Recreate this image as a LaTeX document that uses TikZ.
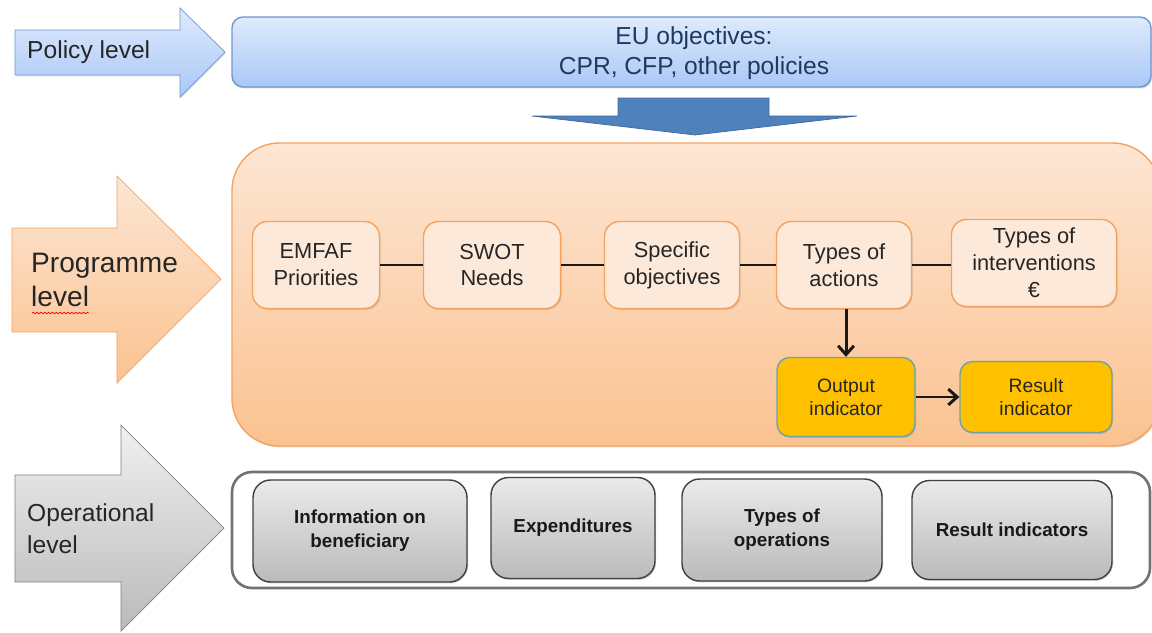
\documentclass[tikz,border=0pt]{standalone}
\usepackage{fontspec}
\setmainfont{Liberation Sans}
\usetikzlibrary{positioning}
\usetikzlibrary{arrows.meta}
\usetikzlibrary{shadows}
\usetikzlibrary{decorations.pathmorphing}

\definecolor{euText}{HTML}{1F3A60}
\definecolor{progLine}{HTML}{F5A25E}
\definecolor{progFill}{HTML}{FDE9DA}
\definecolor{progTop}{HTML}{FDE6D4}
\definecolor{progBottom}{HTML}{FBC290}
\definecolor{indFill}{HTML}{FFC000}
\definecolor{indLine}{HTML}{6FA3A8}
\definecolor{opLine}{HTML}{404040}
\definecolor{blueLine}{HTML}{6F97CC}
\definecolor{blueTop}{HTML}{DFEAFC}
\definecolor{blueBottom}{HTML}{A9C8F7}
\definecolor{arrowBlue}{HTML}{4F81BD}

\tikzset{
	progbox/.style={draw=progLine,fill=progFill,thick,rounded corners=0.3cm,align=center,
		font=\fontsize{12.4}{15.3}\selectfont,text=black!85,
		drop shadow={shadow xshift=0.6pt,shadow yshift=-0.8pt,opacity=0.3}},
	indbox/.style={draw=indLine,fill=indFill,thick,rounded corners=0.25cm,align=center,
		font=\fontsize{11}{13}\selectfont,text=black!85,
		drop shadow={shadow xshift=0.6pt,shadow yshift=-0.8pt,opacity=0.35}},
	opbox/.style={draw=opLine,thick,top color=black!8,bottom color=black!27,rounded corners=0.35cm,
		align=center,font=\fontsize{10.7}{13.6}\selectfont\bfseries,text=black!90,
		drop shadow={shadow xshift=0.6pt,shadow yshift=-0.8pt,opacity=0.35}},
	levellabel/.style={anchor=west,align=left,text=black!85},
	link/.style={line width=1.7pt,black!90},
}

\begin{document}
\begin{tikzpicture}[x=0.02cm,y=-0.02cm]
	\useasboundingbox (0,0) rectangle (1152,632);
	% level arrows
	\draw [blueLine,top color=blueTop,bottom color=blueBottom,
		drop shadow={shadow xshift=0.6pt,shadow yshift=-0.8pt,opacity=0.25}]
		(15,30) -- (180,30) -- (180,8) -- (225,52) -- (180,97) -- (180,75) -- (15,75) -- cycle;
	\draw [progLine,top color=progTop,bottom color=progBottom]
		(12,228) -- (117,228) -- (117,176) -- (221,279) -- (117,383) -- (117,332) -- (12,332) -- cycle;
	\draw [black!50,top color=black!6,bottom color=black!27]
		(15,475) -- (121,475) -- (121,425) -- (224,528) -- (121,631) -- (121,582) -- (15,582) -- cycle;
	\node (policy) [levellabel,font=\fontsize{14}{17}\selectfont] at (21,52) {Policy level};
	\node (programme) [levellabel,font=\fontsize{16}{19.3}\selectfont] at (25,280) {Programme\\level};
	\node (operational) [levellabel,font=\fontsize{14}{18}\selectfont] at (21,529) {Operational\\level};
	\draw [red,decorate,decoration={snake,segment length=2.2pt,amplitude=0.45pt}] (32,313) -- (89,313);

	% policy level
	\draw [blueLine,thick,top color=blueTop,bottom color=blueBottom,rounded corners=0.22cm,
		drop shadow={shadow xshift=0.6pt,shadow yshift=-0.8pt,opacity=0.3}]
		(232,17) rectangle (1151,87);
	\node (eu) [align=center,text=euText,font=\fontsize{14}{17}\selectfont] at (694,53) {EU objectives:\\CPR, CFP, other policies};
	\draw [arrowBlue!80!black,fill=arrowBlue]
		(618,98) -- (769,98) -- (769,116) -- (857,116) -- (695,135) -- (532,116) -- (618,116) -- cycle;

	% programme level
	\draw [progLine,thick,top color=progTop,bottom color=progBottom,rounded corners=0.95cm,
		drop shadow={shadow xshift=0.6pt,shadow yshift=-0.8pt,opacity=0.3}]
		(232,143) rectangle (1160,446);
	\node (emfaf) [progbox,minimum width=2.54cm,minimum height=1.74cm] at (316,265) {EMFAF\\Priorities};
	\node (swot) [progbox,minimum width=2.74cm,minimum height=1.74cm] at (492,265) {SWOT\\Needs};
	\node (specobj) [progbox,minimum width=2.7cm,minimum height=1.74cm] at (672,265) {Specific\\objectives};
	\node (actions) [progbox,minimum width=2.7cm,minimum height=1.74cm] at (844,265) {Types of\\actions};
	\node (interv) [progbox,minimum width=3.3cm,minimum height=1.74cm] at (1034,263) {Types of\\interventions\\€};
	\draw [link] (emfaf.east) -- (swot.west);
	\draw [link] (swot.west -| swot.east) -- (specobj.west);
	\draw [link] (specobj.east) -- (actions.west);
	\draw [link] (actions.east) -- (interv.west |- actions.east);
	\node (output) [indbox,minimum width=2.76cm,minimum height=1.58cm] at (846,397) {Output\\indicator};
	\node (result) [indbox,minimum width=3.04cm,minimum height=1.42cm] at (1036,397) {Result\\indicator};
	\draw [link,-{Straight Barb[length=5pt,width=9pt]}] (actions.south -| output.north) -- (output.north);
	\draw [link,-{Straight Barb[length=5pt,width=9pt]}] (output.east) -- (result.west);

	% operational level
	\draw [black!55,line width=1.5pt,fill=white,rounded corners=0.4cm] (232,472) rectangle (1150,588);
	\node (info) [opbox,minimum width=4.28cm,minimum height=2.04cm] at (360,531) {Information on\\beneficiary};
	\node (expend) [opbox,minimum width=3.28cm,minimum height=2.02cm] at (573,528) {Expenditures};
	\node (opstypes) [opbox,minimum width=4cm,minimum height=2.04cm] at (782,530) {Types of\\operations};
	\node (resind) [opbox,minimum width=4cm,minimum height=1.98cm] at (1012,530) {Result indicators};
\end{tikzpicture}
\end{document}
